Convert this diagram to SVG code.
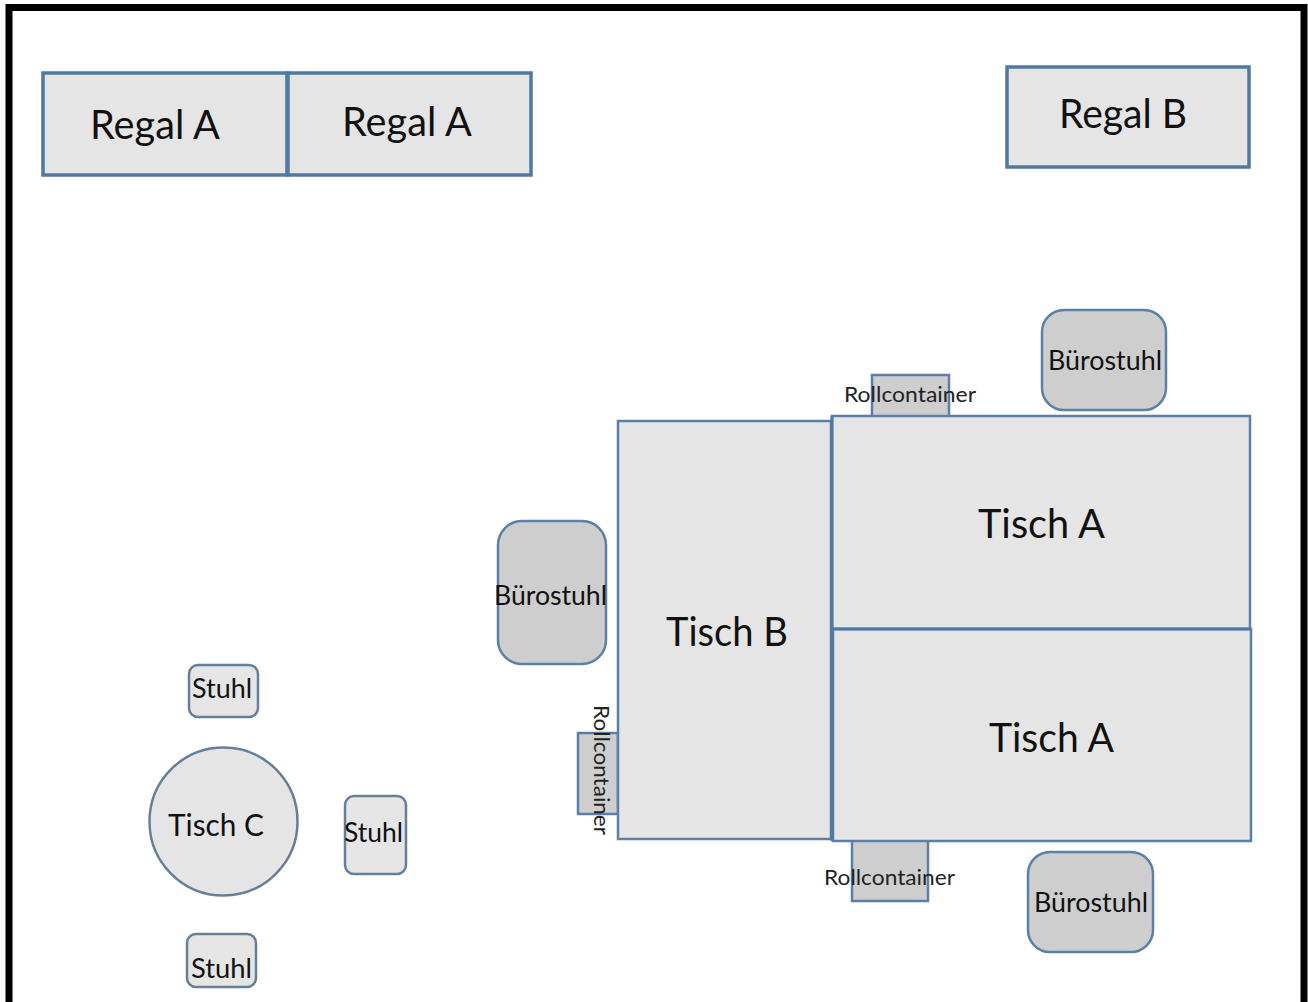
<svg xmlns="http://www.w3.org/2000/svg" width="1308" height="1002" viewBox="0 0 1308 1002">
<style>
.t{fill:#e6e5e6;stroke:#5b7fa6;stroke-width:2.5}
.s{stroke-width:3.5;stroke:#4f79a3}
.d{fill:#cfcecf;stroke:#5b7fa6;stroke-width:2.5}
.c{fill:#e6e5e6;stroke:#667f99;stroke-width:2.5}
text{font-family:"Lato","Open Sans","Liberation Sans",sans-serif;fill:#111;text-anchor:start}
.l{font-size:40px}.m{font-size:31px}.n{font-size:26px}.o{font-size:21px;fill:#222}
</style>
<rect width="1308" height="1002" fill="#fff"/>
<path id="frame" d="M9 1002V7.500H1304V1002" fill="none" stroke="#000" stroke-width="7"/>
<g id="regal-a-1"><rect class="t s" x="43" y="73" width="244" height="102"/><text class="l" x="90" y="139" textLength="130" lengthAdjust="spacingAndGlyphs">Regal A</text></g>
<g id="regal-a-2"><rect class="t s" x="288" y="73" width="243" height="102"/><text class="l" x="342" y="136" textLength="130" lengthAdjust="spacingAndGlyphs">Regal A</text></g>
<g id="regal-b"><rect class="t s" x="1007" y="67" width="242" height="100"/><text class="l" x="1059" y="128" textLength="128" lengthAdjust="spacingAndGlyphs">Regal B</text></g>
<g id="rollcontainer-top"><rect class="d" x="872" y="375" width="77" height="42"/><text class="o" x="844" y="402" textLength="132" lengthAdjust="spacingAndGlyphs">Rollcontainer</text></g>
<g id="buerostuhl-top"><rect class="d" x="1042" y="310" width="124" height="100" rx="22"/><text class="n" x="1048" y="370" textLength="114" lengthAdjust="spacingAndGlyphs">Bürostuhl</text></g>
<g id="rollcontainer-left"><rect class="d" x="578" y="733" width="40" height="81"/><text class="o" transform="translate(594 705) rotate(90)" textLength="130" lengthAdjust="spacingAndGlyphs">Rollcontainer</text></g>
<g id="buerostuhl-left"><rect class="d" x="498" y="521" width="108" height="143" rx="24"/><text class="n" x="494" y="605" textLength="113" lengthAdjust="spacingAndGlyphs">Bürostuhl</text></g>
<g id="rollcontainer-bottom"><rect class="d" x="852" y="838" width="76" height="63"/><text class="o" x="824" y="885" textLength="131" lengthAdjust="spacingAndGlyphs">Rollcontainer</text></g>
<g id="buerostuhl-bottom"><rect class="d" x="1028" y="852" width="125" height="100" rx="22"/><text class="n" x="1034" y="912" textLength="114" lengthAdjust="spacingAndGlyphs">Bürostuhl</text></g>
<g id="tisch-b"><rect class="t" x="618" y="421" width="213" height="418"/><text class="l" x="666" y="646" textLength="122" lengthAdjust="spacingAndGlyphs">Tisch B</text></g>
<g id="tisch-a-1"><rect class="t" x="832" y="416" width="418" height="213"/><text class="l" x="978" y="538" textLength="127" lengthAdjust="spacingAndGlyphs">Tisch A</text></g>
<g id="tisch-a-2"><rect class="t" x="833" y="629" width="418" height="212"/><text class="l" x="989" y="752" textLength="125" lengthAdjust="spacingAndGlyphs">Tisch A</text></g>
<path id="tisch-seam" d="M832 416V841M832 629H1251" fill="none" stroke="#4f79a3" stroke-width="3"/>
<g id="tisch-c"><circle class="c" cx="223.500" cy="821.500" r="74"/><text class="m" x="168" y="836" textLength="96" lengthAdjust="spacingAndGlyphs">Tisch C</text></g>
<g id="stuhl-top"><rect class="c" x="189" y="665" width="69" height="52" rx="9"/><text class="n" x="192" y="698" textLength="60" lengthAdjust="spacingAndGlyphs">Stuhl</text></g>
<g id="stuhl-right"><rect class="c" x="345" y="796" width="61" height="78" rx="9"/><text class="n" x="344" y="842" textLength="59" lengthAdjust="spacingAndGlyphs">Stuhl</text></g>
<g id="stuhl-bottom"><rect class="c" x="187" y="934" width="69" height="53" rx="9"/><text class="n" x="191" y="978" textLength="61" lengthAdjust="spacingAndGlyphs">Stuhl</text></g>
</svg>
